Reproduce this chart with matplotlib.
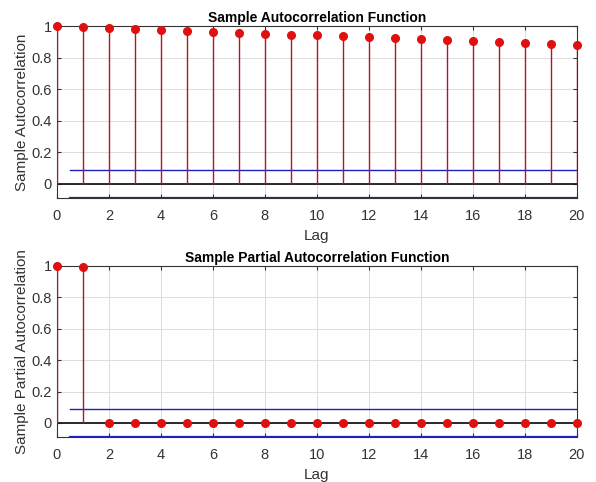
import numpy as np
import matplotlib.pyplot as plt

plt.rcParams['font.family'] = ['Liberation Sans', 'DejaVu Sans']

# sample autocorrelation and partial autocorrelation, lags 0..20
lags = list(range(21))
acf = [1.0, 0.996, 0.990, 0.982, 0.975, 0.968, 0.962, 0.957, 0.951, 0.945, 0.942,
       0.936, 0.930, 0.922, 0.916, 0.909, 0.904, 0.898, 0.893, 0.888, 0.880]
pacf = [1.0, 0.995, 0.0, 0.0, 0.0, 0.0, 0.0, 0.0, 0.0, 0.0, 0.0,
        0.0, 0.0, 0.0, 0.0, 0.0, 0.0, 0.0, 0.0, 0.0, 0.0]
bound = 0.0894  # approx 2/sqrt(N)

titles = ["Sample Autocorrelation Function", "Sample Partial Autocorrelation Function"]
ylabels = ["Sample Autocorrelation", "Sample Partial Autocorrelation"]
positions = [[0.0956, 0.589, 0.872, 0.357], [0.0956, 0.0934, 0.872, 0.355]]

fig = plt.figure(figsize=(5.96, 4.82), dpi=100)

for vals, title, ylab, pos in zip([acf, pacf], titles, ylabels, positions):
    ax = fig.add_axes(pos)
    ax.grid(True, color='#dcdcdc', linewidth=0.7)
    ax.set_axisbelow(True)
    ax.vlines(lags, 0, vals, color='#b01820', linewidth=1.0, zorder=3)
    ax.plot(lags, vals, 'o', color='#e01010', markersize=5.5, zorder=4, clip_on=False)
    ax.axhline(0, color='#1a1a1a', linewidth=1.3, zorder=2)
    ax.plot([0.5, 20], [bound, bound], color='#2020c0', linewidth=1.0, zorder=2)
    ax.plot([0.5, 20], [-bound, -bound], color='#2020c0', linewidth=1.6, zorder=2)
    ax.set_xlim(0, 20)
    ax.set_ylim(-bound, 1)
    ax.set_xticks(range(0, 21, 2))
    ax.set_yticks([0, 0.2, 0.4, 0.6, 0.8, 1])
    ax.set_yticklabels(['0', '0.2', '0.4', '0.6', '0.8', '1'])
    ax.tick_params(direction='in', top=True, right=True, labelsize=10.5,
                   colors='#333333', length=3)
    ax.tick_params(axis='x', pad=8)
    for s in ax.spines.values():
        s.set_color('#333333')
        s.set_linewidth(0.8)
    ax.set_title(title, fontsize=10, fontweight='bold', pad=3)
    ax.set_ylabel(ylab, fontsize=11, color='#333333', labelpad=2)
    ax.set_xlabel("Lag", fontsize=11, color='#333333', labelpad=4)

fig.savefig("out.png", dpi=100)
